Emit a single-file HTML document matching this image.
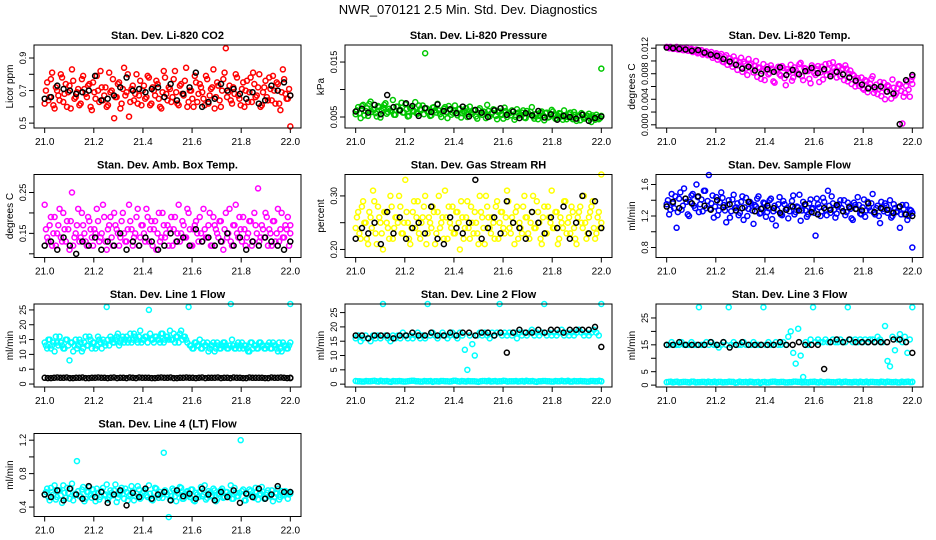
<!DOCTYPE html>
<html><head><meta charset="utf-8"><style>
body{margin:0;background:#fff}
svg{display:block;font-family:"Liberation Sans",sans-serif}
</style></head><body>
<svg id="chart" width="936" height="540">
<rect width="936" height="540" fill="#fff"/>
<text x="468" y="14" text-anchor="middle" font-size="13">NWR_070121  2.5 Min. Std. Dev. Diagnostics</text>
</svg>
<script>
const xTicks=[21.0,21.2,21.4,21.6,21.8,22.0];
const titles=["Stan. Dev. Li-820 CO2","Stan. Dev. Li-820 Pressure","Stan. Dev. Li-820 Temp.","Stan. Dev. Amb. Box Temp.","Stan. Dev. Gas Stream RH","Stan. Dev. Sample Flow","Stan. Dev. Line 1 Flow","Stan. Dev. Line 2 Flow","Stan. Dev. Line 3 Flow","Stan. Dev. Line 4 (LT) Flow"];
const yTitles=["Licor ppm","kPa","degrees C","degrees C","percent","ml/min","ml/min","ml/min","ml/min","ml/min"];
const colors=["#ff0000","#00c800","#ff00ff","#ff00ff","#ffff00","#0000ff","#00ffff","#00ffff","#00ffff","#00ffff"];
const yLims=[[0.47,0.98],[0.003,0.0181],[-0.0005,0.0125],[0.091,0.294],[0.185,0.34],[0.673,1.727],[-1,27],[-1,28],[-0.7,30.2],[0.287,1.28]];
const yTickVals=[[0.5,0.6,0.7,0.8,0.9],[0.005,0.010,0.015],[0,0.002,0.004,0.006,0.008,0.010,0.012],[0.10,0.15,0.20,0.25],[0.20,0.25,0.30],[0.8,1.0,1.2,1.4,1.6],[0,5,10,15,20,25],[0,5,10,15,20,25],[0,5,10,15,20,25],[0.4,0.6,0.8,1.0,1.2]];
const yTickLabels=[["0.5","","0.7","","0.9"],["0.005","","0.015"],["0.000","","0.004","","0.008","","0.012"],["","0.15","","0.25"],["0.20","","0.30"],["0.8","","1.2","","1.6"],["0","5","10","15","20","25"],["0","5","10","15","20","25"],["0","5","","15","","25"],["0.4","","0.8","","1.2"]];

const s1=[0.62,0.75,0.66,0.81,0.59,0.70,0.64,0.78,0.68,0.60,0.73,0.83,0.65,0.69,0.61,0.77,0.71,0.66,0.74,0.58,0.69,0.79,0.63,0.72,0.67,0.60,0.81,0.70,0.53,0.66,0.75,0.62,0.84,0.69,0.54,0.71,0.64,0.80,0.67,0.61,0.73,0.66,0.78,0.62,0.70,0.76,0.65,0.59,0.82,0.68,0.72,0.63,0.77,0.69,0.61,0.74,0.67,0.84,0.63,0.70,0.60,0.75,0.68,0.72,0.65,0.79,0.62,0.71,0.83,0.66,0.73,0.60,0.77,0.96,0.69,0.64,0.72,0.80,0.67,0.61,0.75,0.70,0.63,0.78,0.81,0.66,0.72,0.60,0.69,0.76,0.64,0.71,0.79,0.62,0.74,0.58,0.83,0.68,0.65,0.48];
const s1b=[0.70,0.64,0.77,0.61,0.72,0.67,0.80,0.63,0.74,0.69,0.59,0.76,0.66,0.71,0.62,0.79,0.68,0.73,0.60,0.75,0.65,0.70,0.82,0.64,0.72,0.61,0.69,0.77,0.66,0.74,0.59,0.71,0.67,0.80,0.63,0.73,0.68,0.62,0.76,0.70,0.65,0.79,0.61,0.72,0.67,0.74,0.60,0.69,0.78,0.64,0.71,0.66,0.82,0.62,0.73,0.68,0.76,0.60,0.70,0.65,0.79,0.63,0.74,0.69,0.61,0.77,0.67,0.72,0.59,0.75,0.64,0.70,0.81,0.66,0.73,0.62,0.68,0.78,0.65,0.71,0.60,0.76,0.69,0.63,0.74,0.67,0.80,0.61,0.72,0.66,0.78,0.64,0.70,0.75,0.62,0.69,0.77,0.65,0.71,0.67];
const b1=[0.65,0.66,0.73,0.71,0.70,0.68,0.69,0.70,0.79,0.64,0.65,0.67,0.72,0.78,0.70,0.71,0.69,0.71,0.72,0.66,0.74,0.64,0.68,0.72,0.81,0.60,0.63,0.65,0.74,0.70,0.71,0.68,0.65,0.69,0.62,0.64,0.73,0.70,0.75,0.67];
const s2=[0.0055,0.0068,0.0048,0.0072,0.0061,0.0052,0.0078,0.0064,0.0057,0.0070,0.0049,0.0066,0.0075,0.0059,0.0062,0.0081,0.0054,0.0069,0.0063,0.0058,0.0073,0.0051,0.0066,0.0060,0.0077,0.0056,0.0064,0.0071,0.0166,0.0059,0.0052,0.0067,0.0062,0.0074,0.0055,0.0060,0.0068,0.0048,0.0063,0.0058,0.0071,0.0053,0.0065,0.0057,0.0061,0.0050,0.0069,0.0056,0.0062,0.0047,0.0066,0.0054,0.0059,0.0072,0.0051,0.0058,0.0063,0.0046,0.0060,0.0054,0.0067,0.0050,0.0057,0.0062,0.0045,0.0064,0.0053,0.0058,0.0049,0.0061,0.0055,0.0068,0.0047,0.0056,0.0052,0.0060,0.0044,0.0058,0.0050,0.0063,0.0054,0.0048,0.0057,0.0051,0.0062,0.0046,0.0055,0.0049,0.0059,0.0043,0.0053,0.0057,0.0047,0.0052,0.0056,0.0041,0.0050,0.0054,0.0046,0.0138];
const s2b=[0.0062,0.0057,0.0070,0.0053,0.0066,0.0074,0.0059,0.0063,0.0051,0.0068,0.0061,0.0072,0.0056,0.0065,0.0060,0.0054,0.0069,0.0062,0.0076,0.0058,0.0064,0.0052,0.0067,0.0061,0.0057,0.0071,0.0063,0.0055,0.0066,0.0060,0.0053,0.0068,0.0058,0.0062,0.0050,0.0065,0.0059,0.0070,0.0054,0.0061,0.0057,0.0064,0.0049,0.0060,0.0066,0.0055,0.0058,0.0062,0.0051,0.0063,0.0057,0.0060,0.0048,0.0061,0.0056,0.0064,0.0052,0.0059,0.0055,0.0047,0.0061,0.0057,0.0053,0.0060,0.0050,0.0058,0.0054,0.0062,0.0048,0.0056,0.0059,0.0051,0.0055,0.0046,0.0058,0.0053,0.0057,0.0049,0.0054,0.0060,0.0047,0.0052,0.0056,0.0045,0.0053,0.0050,0.0058,0.0046,0.0054,0.0051,0.0044,0.0055,0.0049,0.0052,0.0047,0.0053,0.0045,0.0050,0.0048,0.0052];
const b2=[0.0060,0.0065,0.0058,0.0072,0.0055,0.0090,0.0068,0.0062,0.0075,0.0070,0.0052,0.0066,0.0059,0.0073,0.0061,0.0064,0.0057,0.0069,0.0051,0.0063,0.0058,0.0050,0.0062,0.0066,0.0054,0.0060,0.0048,0.0057,0.0053,0.0061,0.0049,0.0055,0.0045,0.0052,0.0050,0.0047,0.0054,0.0043,0.0048,0.0051];
const s3=[0.0122,0.0120,0.0121,0.0119,0.0122,0.0118,0.0120,0.0117,0.0121,0.0116,0.0119,0.0115,0.0118,0.0113,0.0117,0.0112,0.0115,0.0110,0.0114,0.0108,0.0112,0.0106,0.0111,0.0098,0.0109,0.0104,0.0096,0.0107,0.0101,0.0093,0.0105,0.0099,0.0088,0.0103,0.0096,0.0082,0.0100,0.0090,0.0072,0.0095,0.0087,0.0079,0.0093,0.0068,0.0085,0.0091,0.0077,0.0089,0.0062,0.0083,0.0094,0.0074,0.0086,0.0081,0.0097,0.0070,0.0088,0.0084,0.0065,0.0090,0.0078,0.0092,0.0082,0.0071,0.0095,0.0087,0.0079,0.0098,0.0084,0.0091,0.0076,0.0088,0.0093,0.0068,0.0085,0.0079,0.0060,0.0073,0.0066,0.0057,0.0070,0.0051,0.0064,0.0076,0.0055,0.0048,0.0067,0.0058,0.0040,0.0062,0.0054,0.0071,0.0046,0.0057,0.0063,0.0002,0.0050,0.0068,0.0044,0.0075];
const s3b=[0.0121,0.0122,0.0119,0.0120,0.0118,0.0121,0.0117,0.0119,0.0116,0.0118,0.0114,0.0117,0.0112,0.0115,0.0110,0.0113,0.0109,0.0111,0.0105,0.0110,0.0102,0.0108,0.0099,0.0106,0.0094,0.0104,0.0091,0.0101,0.0086,0.0098,0.0083,0.0096,0.0078,0.0094,0.0087,0.0092,0.0075,0.0089,0.0084,0.0070,0.0091,0.0081,0.0088,0.0066,0.0086,0.0079,0.0092,0.0073,0.0087,0.0083,0.0069,0.0090,0.0080,0.0095,0.0076,0.0089,0.0085,0.0072,0.0093,0.0081,0.0087,0.0067,0.0091,0.0084,0.0078,0.0096,0.0082,0.0089,0.0074,0.0092,0.0086,0.0070,0.0088,0.0080,0.0064,0.0077,0.0070,0.0061,0.0074,0.0055,0.0068,0.0059,0.0072,0.0050,0.0063,0.0056,0.0045,0.0066,0.0052,0.0060,0.0041,0.0058,0.0049,0.0064,0.0053,0.0044,0.0061,0.0055,0.0070,0.0064];
const b3=[0.0121,0.0120,0.0119,0.0118,0.0116,0.0117,0.0113,0.0110,0.0108,0.0103,0.0099,0.0094,0.0088,0.0091,0.0085,0.0080,0.0087,0.0083,0.0090,0.0078,0.0086,0.0079,0.0084,0.0089,0.0081,0.0087,0.0076,0.0083,0.0079,0.0074,0.0069,0.0063,0.0057,0.0059,0.0060,0.0052,0.0049,0.0001,0.0070,0.0078];
const s4=[0.22,0.14,0.17,0.12,0.19,0.15,0.21,0.13,0.16,0.18,0.11,0.25,0.14,0.17,0.13,0.20,0.15,0.12,0.18,0.14,0.16,0.21,0.13,0.15,0.19,0.11,0.17,0.14,0.20,0.16,0.12,0.18,0.15,0.13,0.22,0.16,0.14,0.19,0.12,0.17,0.15,0.21,0.13,0.18,0.16,0.11,0.20,0.14,0.17,0.15,0.12,0.19,0.16,0.13,0.22,0.15,0.17,0.14,0.20,0.12,0.16,0.18,0.13,0.15,0.21,0.14,0.17,0.12,0.19,0.16,0.14,0.18,0.11,0.20,0.15,0.13,0.17,0.22,0.14,0.16,0.19,0.12,0.15,0.18,0.13,0.17,0.26,0.14,0.16,0.20,0.12,0.15,0.18,0.13,0.21,0.16,0.14,0.17,0.19,0.15];
const s4b=[0.16,0.13,0.19,0.15,0.12,0.17,0.14,0.20,0.13,0.16,0.18,0.12,0.15,0.21,0.14,0.17,0.13,0.19,0.16,0.12,0.15,0.18,0.14,0.22,0.13,0.16,0.19,0.12,0.17,0.15,0.14,0.20,0.13,0.16,0.18,0.12,0.15,0.21,0.14,0.17,0.13,0.19,0.16,0.12,0.18,0.15,0.13,0.20,0.14,0.17,0.16,0.12,0.19,0.15,0.13,0.18,0.14,0.21,0.16,0.12,0.17,0.15,0.19,0.13,0.16,0.14,0.20,0.12,0.17,0.15,0.18,0.13,0.16,0.14,0.21,0.12,0.17,0.15,0.19,0.13,0.16,0.14,0.18,0.12,0.20,0.15,0.13,0.17,0.14,0.19,0.16,0.12,0.18,0.15,0.13,0.20,0.14,0.16,0.12,0.17];
const b4=[0.12,0.13,0.11,0.14,0.12,0.10,0.13,0.12,0.14,0.11,0.13,0.12,0.15,0.11,0.13,0.12,0.14,0.13,0.11,0.12,0.15,0.13,0.14,0.12,0.16,0.13,0.14,0.12,0.13,0.15,0.12,0.14,0.11,0.13,0.12,0.14,0.13,0.12,0.11,0.13];
const s5=[0.24,0.27,0.22,0.29,0.25,0.21,0.26,0.31,0.23,0.28,0.25,0.20,0.27,0.24,0.30,0.22,0.26,0.25,0.28,0.23,0.33,0.25,0.21,0.27,0.24,0.29,0.22,0.26,0.30,0.23,0.25,0.28,0.21,0.27,0.24,0.26,0.31,0.22,0.25,0.28,0.23,0.27,0.20,0.26,0.24,0.29,0.22,0.25,0.27,0.23,0.30,0.26,0.21,0.28,0.24,0.26,0.22,0.29,0.25,0.27,0.23,0.31,0.24,0.26,0.21,0.28,0.25,0.23,0.30,0.26,0.22,0.27,0.24,0.29,0.25,0.21,0.28,0.23,0.26,0.31,0.24,0.27,0.22,0.25,0.29,0.23,0.26,0.28,0.24,0.21,0.27,0.25,0.30,0.22,0.26,0.28,0.24,0.23,0.27,0.34];
const s5b=[0.26,0.23,0.28,0.25,0.22,0.27,0.24,0.29,0.21,0.26,0.23,0.27,0.25,0.22,0.28,0.24,0.26,0.30,0.23,0.25,0.27,0.22,0.24,0.29,0.26,0.23,0.25,0.28,0.21,0.26,0.24,0.27,0.23,0.30,0.25,0.22,0.26,0.28,0.24,0.23,0.27,0.25,0.29,0.22,0.26,0.24,0.28,0.23,0.25,0.21,0.27,0.24,0.30,0.26,0.23,0.25,0.28,0.22,0.27,0.24,0.26,0.29,0.23,0.25,0.27,0.22,0.24,0.28,0.26,0.23,0.25,0.30,0.24,0.27,0.22,0.26,0.23,0.28,0.25,0.24,0.27,0.21,0.26,0.24,0.29,0.25,0.23,0.27,0.22,0.26,0.28,0.24,0.25,0.23,0.27,0.29,0.22,0.26,0.24,0.25];
const b5=[0.22,0.24,0.23,0.25,0.21,0.27,0.23,0.26,0.22,0.24,0.25,0.23,0.28,0.22,0.21,0.26,0.24,0.23,0.25,0.33,0.22,0.24,0.26,0.23,0.29,0.25,0.24,0.22,0.27,0.25,0.23,0.26,0.24,0.28,0.22,0.25,0.30,0.23,0.29,0.24];
const s6=[1.35,1.22,1.48,1.30,1.05,1.42,1.28,1.55,1.38,1.20,1.46,1.33,1.60,1.25,1.41,1.52,1.30,1.72,1.36,1.18,1.44,1.27,1.50,1.34,1.12,1.40,1.26,1.47,1.31,1.21,1.38,1.15,1.43,1.29,1.36,1.10,1.32,1.45,1.24,1.37,1.19,1.30,1.42,1.26,1.08,1.35,1.22,1.39,1.28,1.17,1.33,1.46,1.25,1.31,1.14,1.38,1.27,1.22,1.41,1.30,0.95,1.35,1.20,1.43,1.28,1.52,1.24,1.36,1.18,1.32,1.40,1.26,1.21,1.37,1.29,1.15,1.34,1.44,1.23,1.31,1.19,1.38,1.27,1.48,1.22,1.33,1.11,1.29,1.36,1.24,1.40,1.20,1.30,1.26,1.05,1.34,1.22,1.15,1.28,0.80];
const s6b=[1.40,1.28,1.36,1.45,1.25,1.50,1.33,1.42,1.22,1.38,1.48,1.30,1.44,1.35,1.26,1.52,1.39,1.29,1.46,1.32,1.21,1.37,1.43,1.27,1.34,1.18,1.41,1.30,1.36,1.24,1.45,1.31,1.20,1.38,1.27,1.34,1.42,1.23,1.30,1.36,1.25,1.40,1.16,1.33,1.28,1.44,1.21,1.35,1.30,1.26,1.39,1.22,1.32,1.47,1.27,1.34,1.19,1.36,1.29,1.24,1.42,1.31,1.26,1.38,1.21,1.33,1.45,1.28,1.23,1.35,1.30,1.40,1.25,1.32,1.17,1.37,1.29,1.34,1.22,1.41,1.27,1.31,1.36,1.24,1.30,1.20,1.38,1.26,1.33,1.28,1.18,1.35,1.25,1.31,1.22,1.29,1.34,1.20,1.27,1.24];
const b6=[1.32,1.38,1.30,1.42,1.36,1.45,1.33,1.28,1.40,1.31,1.35,1.27,1.30,1.38,1.26,1.29,1.33,1.30,1.24,1.28,1.32,1.27,1.35,1.25,1.22,1.30,1.28,1.34,1.26,1.31,1.29,1.27,1.36,1.25,1.30,1.28,1.24,1.32,1.22,1.20];
const s7=[14,12,15,13,11,14,16,13,12,15,8,14,13,12,15,11,14,13,16,12,14,13,15,12,14,26,13,15,14,16,13,15,14,16,15,14,17,15,16,14,15,16,25,15,14,16,15,17,14,16,15,15,17,16,14,18,16,15,26,13,12,14,13,12,14,13,11,13,14,12,13,12,14,13,12,27,13,12,14,13,12,13,11,14,12,13,12,14,13,12,13,12,14,13,11,12,14,13,12,27];
const s7b=[13,15,12,14,16,13,14,12,15,13,14,11,15,13,14,12,16,13,15,14,12,16,14,15,13,15,16,14,15,17,14,16,15,14,17,15,16,14,18,15,16,14,17,15,16,15,14,17,15,16,18,15,14,16,17,15,16,14,13,12,14,13,15,12,13,14,12,13,11,14,12,13,14,12,13,15,12,13,12,14,13,12,11,14,13,12,14,13,12,13,14,12,13,12,14,11,13,12,13,14];
const b7=[2.1,2.0,2.2,2.1,2.0,2.1,2.2,2.0,2.1,2.1,2.0,2.2,2.1,2.0,2.1,2.2,2.1,2.0,2.1,2.1,2.2,2.0,2.1,2.1,2.0,2.2,2.1,2.1,2.0,2.1,2.2,2.1,2.0,2.1,2.1,2.0,2.2,2.1,2.1,2.0];
const b7b=[2.0,2.1,2.1,2.2,2.0,2.1,2.0,2.1,2.2,2.1,2.1,2.0,2.1,2.2,2.0,2.1,2.1,2.0,2.2,2.1,2.0,2.1,2.2,2.1,2.1,2.0,2.1,2.2,2.1,2.0,2.1,2.0,2.2,2.1,2.1,2.0,2.1,2.2,2.0,2.1];
const s8=[16,17,15,16,17,16,15,17,16,17,16,28,17,16,15,17,16,17,16,18,17,16,17,16,17,18,16,17,16,28,17,18,17,16,17,18,17,16,17,18,17,16,18,17,12,5,17,14,10,17,18,17,18,17,16,18,17,18,28,17,18,17,18,17,18,16,18,17,18,17,18,19,17,18,17,18,28,17,18,17,18,17,18,19,17,18,17,18,17,18,19,18,17,18,17,18,19,18,17,28];
const l8=[1.0,0.9,1.1,1.0,1.2,0.9,1.0,1.1,0.8,1.0,1.1,0.9,1.0,1.2,1.0,0.9,1.1,1.0,0.8,1.0,1.1,1.0,0.9,1.2,1.0,1.1,0.9,1.0,1.0,0.8,1.1,1.0,0.9,1.1,1.0,1.2,0.9,1.0,1.1,1.0,0.9,1.0,1.1,0.8,1.0,1.1,1.0,0.9,1.0,1.2,1.0,0.9,1.1,1.0,1.0,0.9,1.1,1.0,1.2,1.0];
const l8b=[1.1,1.0,0.9,1.0,1.1,1.0,1.2,1.0,0.9,1.1,1.0,1.0,0.9,1.1,1.2,1.0,0.9,1.0,1.1,1.0,0.9,1.1,1.0,1.0,1.2,0.9,1.0,1.1,1.0,0.9,1.0,1.1,1.2,1.0,0.9,1.0,1.1,1.0,1.0,0.9,1.1,1.2,1.0,0.9,1.0,1.1,1.0,0.9,1.1,1.0,1.0,1.2,0.9,1.0,1.1,1.0,0.9,1.1,1.0,1.0];
const b8=[17,17,16,17,17,17,16,17,17,18,17,17,18,17,17,18,17,18,18,17,18,18,17,18,11,18,19,18,18,19,18,19,19,18,19,19,19,19,20,13];
const s9=[15,15,16,15,15,15,16,15,15,15,16,15,15,29,15,15,16,15,16,15,15,14,15,16,15,29,15,16,15,15,15,16,15,15,15,16,15,15,15,29,15,16,15,15,16,15,15,16,15,18,20,12,8,21,11,3,16,15,17,29,16,17,16,16,17,16,16,17,16,16,17,16,16,29,17,16,17,16,17,16,17,16,17,17,16,18,17,16,22,9,7,18,13,17,19,16,18,12,17,29];
const l9=[1.2,1.0,1.3,1.1,1.2,1.0,1.3,1.1,1.2,1.0,1.1,1.3,1.2,1.0,1.1,1.2,0.9,1.3,1.1,1.0,1.2,1.1,0.8,1.2,1.0,1.3,1.1,1.2,1.0,1.1,1.3,1.2,1.0,1.1,1.2,1.3,1.0,1.1,1.2,1.1,1.0,1.3,1.2,1.1,1.0,1.2,1.3,1.1,1.0,1.2,1.1,1.3,1.0,1.2,1.1,1.0,1.3,1.2,1.1,1.2];
const l9b=[1.1,1.3,1.2,1.0,1.2,1.1,1.3,1.0,1.1,1.2,1.3,1.1,1.0,1.2,1.1,1.3,1.2,1.0,1.1,1.2,1.3,1.0,1.2,1.1,1.0,1.2,1.3,1.1,1.2,1.0,1.1,1.3,1.2,1.1,1.0,1.2,1.1,1.3,1.0,1.2,1.1,1.2,1.0,1.3,1.1,1.2,1.0,1.1,1.3,1.2,1.1,1.0,1.2,1.3,1.1,1.2,1.0,1.1,1.3,1.2];
const b9=[15,15,16,15,15,15,15,16,15,16,14,15,16,15,15,15,15,15,16,15,15,16,15,15,15,6,16,17,16,17,16,16,16,16,16,16,17,17,16,12];
const s10=[0.55,0.62,0.48,0.58,0.66,0.52,0.60,0.45,0.57,0.63,0.50,0.68,0.55,0.95,0.53,0.61,0.47,0.58,0.64,0.51,0.56,0.62,0.49,0.59,0.54,0.67,0.52,0.57,0.60,0.46,0.55,0.63,0.50,0.58,0.53,0.65,0.48,0.56,0.61,0.52,0.59,0.54,0.66,0.49,0.57,0.62,0.51,0.55,1.05,0.58,0.28,0.53,0.60,0.47,0.56,0.63,0.50,0.58,0.54,0.61,0.48,0.57,0.52,0.64,0.55,0.49,0.59,0.53,0.62,0.47,0.56,0.60,0.51,0.58,0.54,0.66,0.50,0.57,0.53,1.20,0.61,0.48,0.55,0.59,0.52,0.63,0.49,0.56,0.58,0.51,0.60,0.54,0.47,0.57,0.62,0.52,0.55,0.59,0.50,0.56];
const s10b=[0.58,0.52,0.63,0.55,0.49,0.60,0.54,0.66,0.51,0.57,0.62,0.48,0.56,0.59,0.53,0.64,0.50,0.58,0.55,0.61,0.47,0.57,0.52,0.63,0.55,0.49,0.60,0.54,0.67,0.51,0.58,0.56,0.62,0.48,0.55,0.59,0.53,0.65,0.50,0.57,0.61,0.52,0.56,0.48,0.63,0.54,0.58,0.51,0.60,0.55,0.49,0.62,0.53,0.57,0.64,0.50,0.56,0.59,0.52,0.61,0.47,0.55,0.58,0.53,0.66,0.51,0.57,0.54,0.60,0.49,0.56,0.62,0.52,0.58,0.55,0.50,0.63,0.53,0.57,0.59,0.48,0.56,0.61,0.54,0.51,0.58,0.55,0.64,0.50,0.57,0.53,0.60,0.52,0.56,0.49,0.59,0.54,0.57,0.55,0.58];
const b10=[0.55,0.52,0.60,0.48,0.62,0.55,0.50,0.65,0.52,0.58,0.45,0.55,0.60,0.42,0.57,0.52,0.62,0.50,0.55,0.58,0.48,0.60,0.53,0.56,0.50,0.62,0.55,0.48,0.58,0.52,0.60,0.45,0.56,0.52,0.62,0.50,0.55,0.65,0.58,0.58];

const colorSeries=[[s1,s1b],[s2,s2b],[s3,s3b],[s4,s4b],[s5,s5b],[s6,s6b],[s7,s7b],[s8,l8,l8b],[s9,l9,l9b],[s10,s10b]];
const blackSeries=[[b1],[b2],[b3],[b4],[b5],[b6],[b7,b7b],[b8],[b9],[b10]];

const NS="http://www.w3.org/2000/svg";
const svg=document.getElementById('chart');
const colLeft=[34,345,656], colW=267, rowTop=[45,174.5,304,433.5], rowH=83;
function mk(tag,attrs,parent){const e=document.createElementNS(NS,tag);for(const k in attrs)e.setAttribute(k,attrs[k]);parent.appendChild(e);return e;}

for(let p=0;p<10;p++){
  const L=colLeft[p%3], T=rowTop[Math.floor(p/3)], B=T+rowH, R=L+colW;
  const g=mk('g',{},svg);
  
  
  const pad=colW*0.04;
  const xs=v=>L+pad+(v-21)*(colW-2*pad);
  const [y0,y1]=yLims[p];
  const ys=v=>B-(v-y0)/(y1-y0)*rowH;
  const t=mk('text',{x:(L+R)/2,y:T-6,'text-anchor':'middle','font-size':11,'font-weight':'bold'},g);
  t.textContent=titles[p];
  
  
  const yt=mk('text',{x:0,y:0,'text-anchor':'middle','font-size':10,transform:`translate(${L-21},${(T+B)/2}) rotate(-90)`},g);
  yt.textContent=yTitles[p];
  
  
  xTicks.forEach(v=>{
    const x=xs(v);
    mk('line',{x1:x,x2:x,y1:B,y2:B+5,stroke:'#000'},g);
    const tl=mk('text',{x:x,y:B+17,'text-anchor':'middle','font-size':10},g);
    tl.textContent=v.toFixed(1);
    
    
  });
  yTickVals[p].forEach((v,i)=>{
    const y=ys(v);
    mk('line',{x1:L-5,x2:L,y1:y,y2:y,stroke:'#000'},g);
    const lab=yTickLabels[p][i];
    if(lab){
      const tl=mk('text',{x:0,y:0,'text-anchor':'middle','font-size':9,transform:`translate(${L-8},${y}) rotate(-90)`},g);
      tl.textContent=lab;
      
      
    }
  });
  const drawPts=(arr,col,name,off)=>{
    const n=arr.length;
    arr.forEach((v,i)=>{
      const xv=Math.min(22,21+(i+off)/(n-1));
      const c=mk('circle',{cx:xs(xv),cy:ys(v),r:2.5,fill:'none',stroke:col,'stroke-width':1.5},g);
      
      
    });
  };
  colorSeries[p].forEach((arr,k)=>drawPts(arr,colors[p],'data-point',k%2?0.5:0));
  blackSeries[p].forEach((arr,k)=>drawPts(arr,'#000','reference-point',k%2?0.5:0));
  const fr=mk('rect',{x:L,y:T,width:colW,height:rowH,fill:'none',stroke:'#000'},g);
  
  
}
</script>
</body></html>
